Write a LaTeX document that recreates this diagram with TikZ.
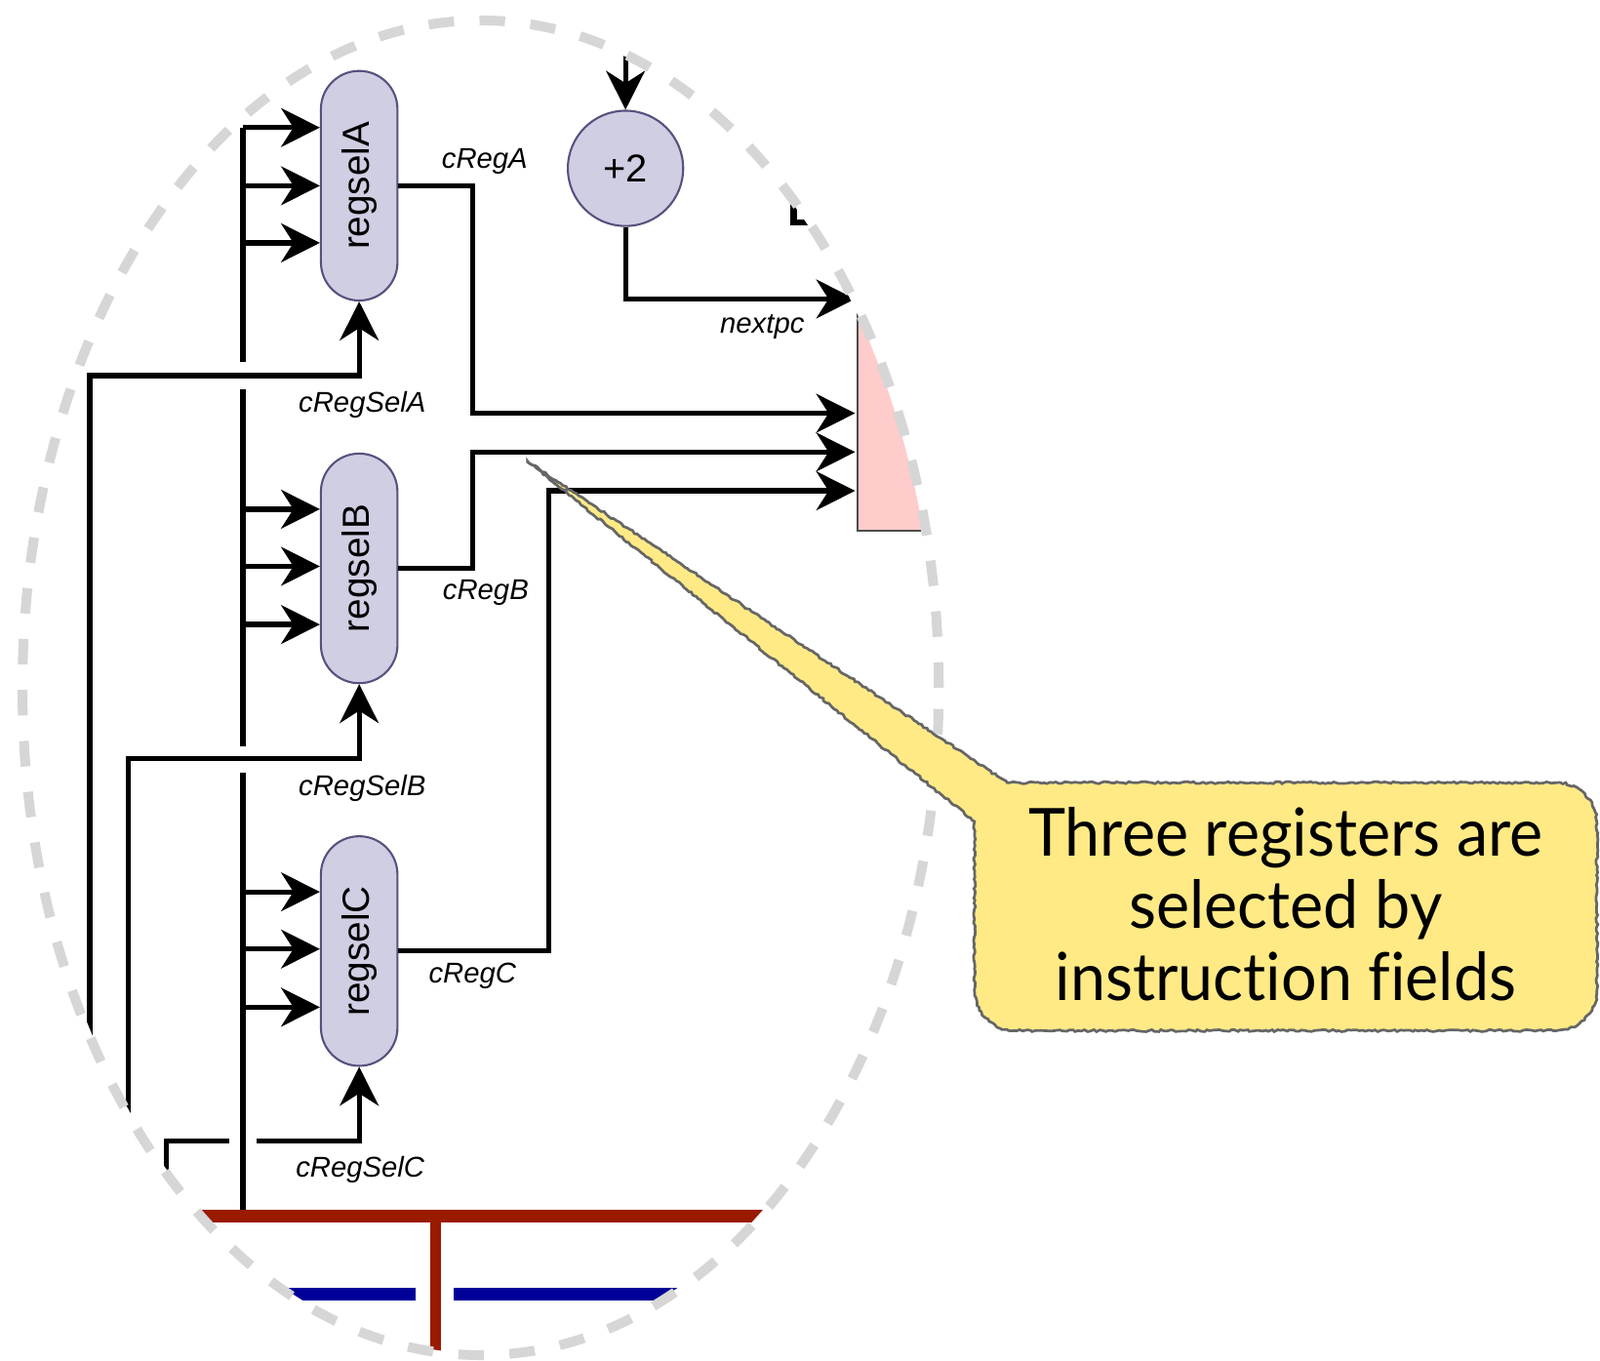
\documentclass[tikz,border=0pt]{standalone}
\usepackage{fontspec}
\setmainfont{Liberation Sans}
\newfontfamily\callfont[Ligatures=NoCommon]{Lato}
\usetikzlibrary{arrows.meta,decorations.pathmorphing}
\definecolor{pillfill}{HTML}{D0CEE2}
\definecolor{pilldraw}{HTML}{56517E}
\definecolor{muxfill}{HTML}{FFCCCC}
\definecolor{muxdraw}{HTML}{4D4D4D}
\definecolor{busred}{HTML}{9A1A00}
\definecolor{busblue}{HTML}{000099}
\definecolor{lensgray}{HTML}{D6D6D6}
\definecolor{noteyellow}{HTML}{FFEA85}
\definecolor{notedraw}{HTML}{666666}
\tikzset{
  wire/.style={line width=2.5pt, black},
  arr/.style={wire, -{Stealth[length=19pt,width=19pt,inset=6pt]}},
  pill/.style={draw=pilldraw, fill=pillfill, line width=1pt, rounded corners=18.7pt,
    minimum width=37.5pt, minimum height=112.5pt, inner sep=0pt,
    font=\fontsize{18.5}{20}\selectfont},
  circnode/.style={draw=pilldraw, fill=pillfill, line width=1pt, circle,
    minimum size=56.5pt, inner sep=0pt, font=\fontsize{19}{20}\selectfont},
  lbl/.style={font=\fontsize{14}{16}\selectfont\itshape, inner sep=0pt},
  lens/.style={draw=lensgray, line width=4.8pt, dash pattern=on 12.5pt off 12.5pt},
}
\newcommand{\sq}[1]{\scalebox{0.95}[1]{#1}}
\begin{document}
\begin{tikzpicture}[x=0.5pt,y=-0.5pt]
\useasboundingbox (0,0) rectangle (1568,1333);
\begin{scope}
\clip (471,674) ellipse [x radius=223pt, y radius=326pt];
% mux
\fill[muxfill] (840,150) rectangle (1000,520);
\draw[muxdraw, line width=1pt] (840,150) -- (840,520) -- (1000,520);
% fragment
\draw[line width=3.2pt] (778,170) -- (778,218) -- (820,218);
% nodes
\node[pill] (A) at (352,182) {\rotatebox{90}{regselA}};
\node[pill] (B) at (352,557) {\rotatebox{90}{regselB}};
\node[pill] (C) at (352,932) {\rotatebox{90}{regselC}};
\node[circnode] (P) at (613,165) {+2};
% bus
\draw[wire] (238,125) -- (238,355);
\draw[wire] (238,381) -- (238,731);
\draw[wire] (238,757) -- (238,1192);
\foreach \y/\n in {125/A,182/A,238/A,499/B,555/B,612/B,874/C,930/C,987/C}{
  \coordinate (bt) at (238,\y);
  \draw[arr] (bt) -- (bt -| \n.west);
}
% select lines
\coordinate (sA) at (88,1200);
\coordinate (kA) at (352,368);
\draw[arr] (sA) |- (kA) -- (A.south);
\coordinate (sB) at (126,1200);
\coordinate (kB) at (352,743);
\draw[arr] (sB) |- (kB) -- (B.south);
\coordinate (sC) at (163,1250);
\coordinate (gC1) at (225,1118);
\coordinate (gC2) at (251,1118);
\coordinate (kC) at (352,1118);
\draw[wire] (sC) |- (gC1);
\draw[arr] (gC2) -- (kC) -- (C.south);
\node[lbl] at (355,397) {cRegSelA};
\node[lbl] at (355,772) {cRegSelB};
\node[lbl] at (353,1146) {cRegSelC};
% outputs to mux
\coordinate (mA) at (838,405);
\coordinate (mB) at (838,443);
\coordinate (mC) at (838,481);
\coordinate (jA) at (463,405);
\coordinate (jB) at (463,443);
\coordinate (jC) at (538,481);
\draw[arr] (A.east) -| (jA) -- (mA);
\draw[arr] (B.east) -| (jB) -- (mB);
\draw[arr] (C.east) -| (jC) -- (mC);
\node[lbl] at (475,158) {cRegA};
\node[lbl] at (476,581) {cRegB};
\node[lbl] at (463,956) {cRegC};
% +2
\coordinate (pin) at (613,0);
\draw[arr] (pin) -- (P.north);
\coordinate (nx) at (838,293);
\draw[arr] (P.south) |- (nx);
\node[lbl] at (747,320) {nextpc};
% red and blue buses
\draw[busblue, line width=6pt] (250,1268) -- (407,1268);
\draw[busblue, line width=6pt] (445,1268) -- (700,1268);
\draw[busred, line width=6pt] (180,1192) -- (760,1192);
\draw[busred, line width=5pt] (427,1192) -- (427,1360);
\end{scope}
% lens outline
\draw[lens] (471,674) ellipse [x radius=224.5pt, y radius=327pt];
% callout
\filldraw[fill=noteyellow, draw=notedraw, line width=1.3pt,
  decoration={random steps,segment length=1.5pt,amplitude=0.5pt}, decorate]
  (517,452) -- (987,767) [rounded corners=20pt] -- (1565,767) -- (1565,1010)
  -- (955,1010) [sharp corners] -- (955,805) -- cycle;
\node[font=\callfont\fontsize{32.5}{35.5}\selectfont, align=center, inner sep=0pt]
  (note) at (1260,886) {\sq{Three registers are}\\\sq{selected by}\\\sq{instruction fields}};
\end{tikzpicture}
\end{document}
